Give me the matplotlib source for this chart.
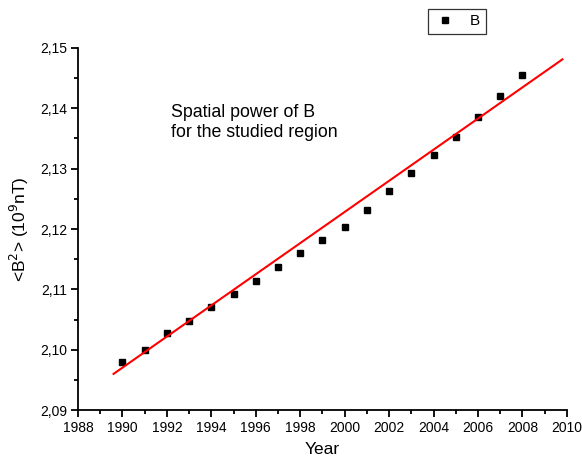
import numpy as np
import matplotlib.pyplot as plt
from matplotlib.ticker import MultipleLocator, FuncFormatter

plt.rcParams['font.family'] = ['Liberation Sans', 'DejaVu Sans']

years = [1990, 1991, 1992, 1993, 1994, 1995, 1996, 1997, 1998, 1999,
         2000, 2001, 2002, 2003, 2004, 2005, 2006, 2007, 2008]
power = [2.0980, 2.1000, 2.1027, 2.1048, 2.1070, 2.1093, 2.1114, 2.1137, 2.1160, 2.1182,
         2.1203, 2.1232, 2.1263, 2.1292, 2.1322, 2.1352, 2.1386, 2.1420, 2.1455]
# linear trend drawn across the window
fit_x = [1989.6, 2009.8]
fit_y = [2.0960, 2.1481]

fig = plt.figure(figsize=(5.82, 4.65), dpi=100)
ax = fig.add_axes([0.134, 0.118, 0.840, 0.779])

ax.plot(years, power, 's', color='black', markersize=5, label='B')
ax.plot(fit_x, fit_y, '-', color='red', lw=1.5)

ax.set_xlim(1988, 2010)
ax.set_ylim(2.09, 2.15)
ax.xaxis.set_major_locator(MultipleLocator(2))
ax.xaxis.set_minor_locator(MultipleLocator(1))
ax.yaxis.set_major_locator(MultipleLocator(0.01))
ax.yaxis.set_minor_locator(MultipleLocator(0.005))
ax.yaxis.set_major_formatter(FuncFormatter(lambda v, p: ('%.2f' % v).replace('.', ',')))

for s in ['top', 'right']:
    ax.spines[s].set_visible(False)
for s in ['left', 'bottom']:
    ax.spines[s].set_linewidth(1.3)
ax.tick_params(which='major', direction='out', length=5, width=1.3, labelsize=10, pad=3)
ax.tick_params(which='minor', direction='out', length=3, width=1.3)

ax.set_xlabel('Year', fontsize=12.5, labelpad=5)
ax.set_ylabel('<B$^2$> (10$^9$nT)', fontsize=12.5, labelpad=6)

ax.text(1992.2, 2.1386, 'Spatial power of B', fontsize=12.8, va='baseline')
ax.text(1992.2, 2.1353, 'for the studied region', fontsize=12.8, va='baseline')

leg = ax.legend(loc='upper right', bbox_to_anchor=(0.834, 1.107), fontsize=11,
                frameon=True, fancybox=False, edgecolor='black', handletextpad=0.9,
                borderpad=0.35, handlelength=1.5, borderaxespad=0)
leg.get_frame().set_linewidth(0.9)

fig.savefig('out.png', dpi=100)
